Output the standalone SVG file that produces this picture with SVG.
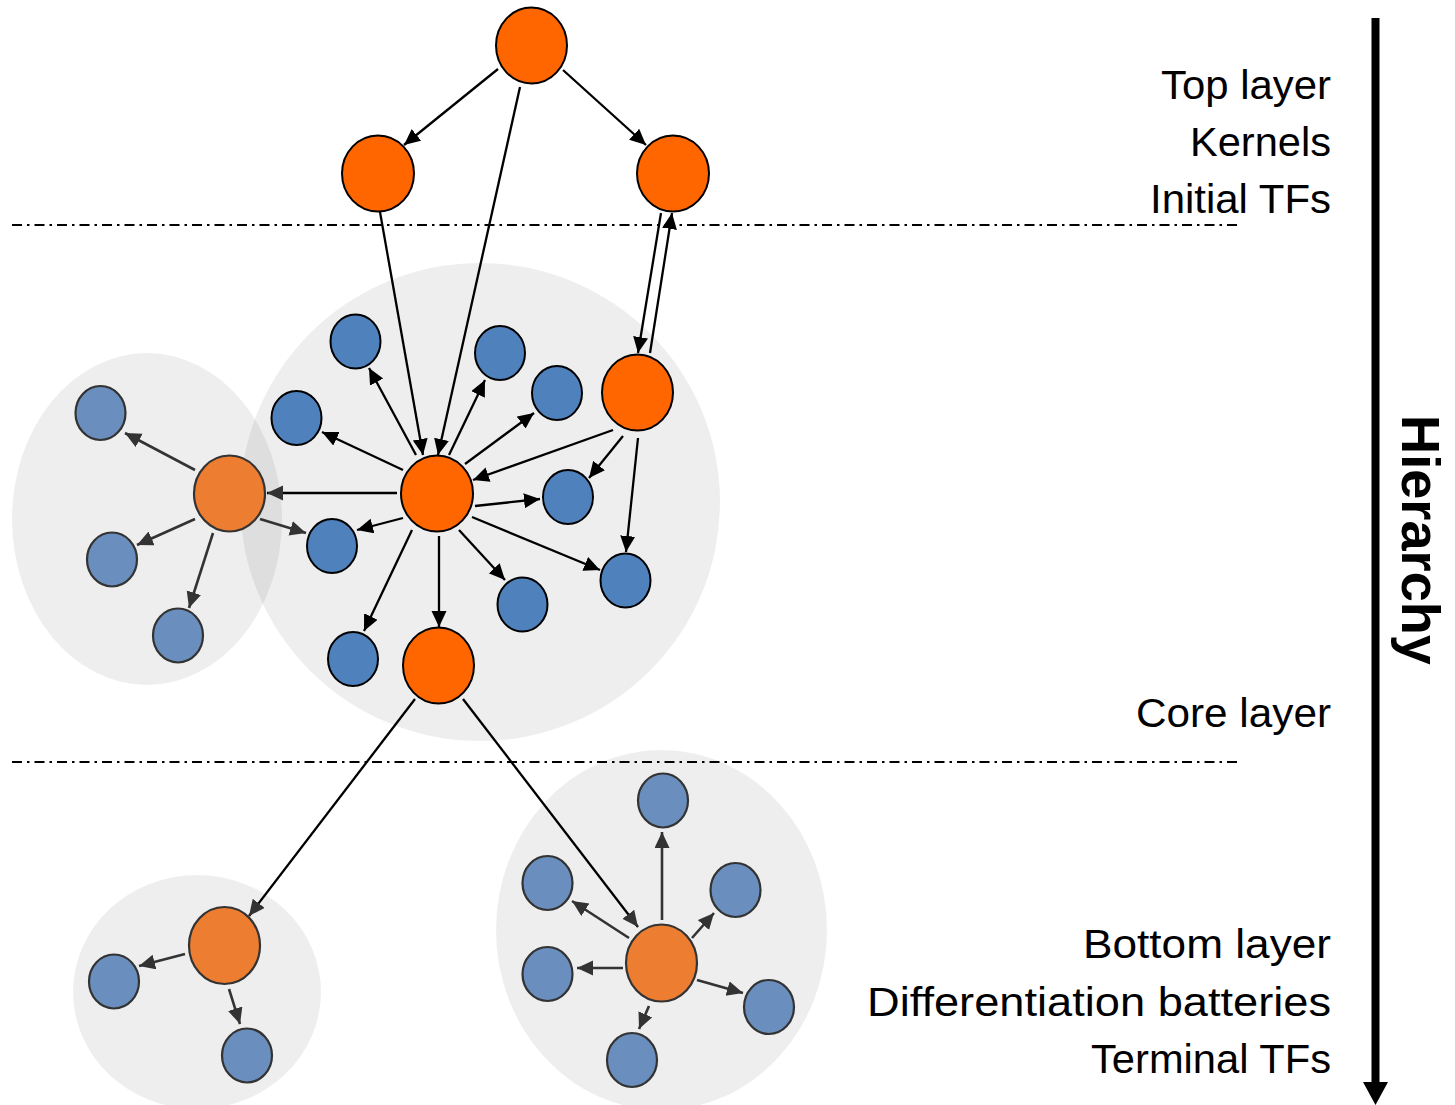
<svg xmlns="http://www.w3.org/2000/svg" width="1455" height="1105" viewBox="0 0 1455 1105">
<style>
.bg{fill:#000;fill-opacity:0.067;stroke:none}
.or{fill:#FF6600;stroke:#000;stroke-width:2}
.bl{fill:#4F81BD;stroke:#000;stroke-width:2}
.lor{fill:#ED7D31;stroke:#333;stroke-width:2.2}
.lbl{fill:#6A8FBF;stroke:#333;stroke-width:2.2}
.k{stroke:#000;stroke-width:2.3;fill:none;marker-end:url(#ak)}
.kg{stroke:#000;stroke-width:2.3;fill:none;marker-end:url(#ag)}
.g{stroke:#333;stroke-width:2.6;fill:none;marker-end:url(#ag)}
.sep{stroke:#000;stroke-width:2;stroke-dasharray:10 5 2.5 5;fill:none}
.lab{font-family:"Liberation Sans",Arial,sans-serif;font-size:40px;fill:#000;text-anchor:end}
</style>
<defs>
<marker id="ak" markerUnits="userSpaceOnUse" markerWidth="17" markerHeight="16" refX="16" refY="7.5" orient="auto" viewBox="0 0 17 16"><path d="M0,0 L16,7.5 L0,15 z" fill="#000"/></marker>
<marker id="ag" markerUnits="userSpaceOnUse" markerWidth="17" markerHeight="16" refX="16" refY="7.5" orient="auto" viewBox="0 0 17 16"><path d="M0,0 L16,7.5 L0,15 z" fill="#333"/></marker>
</defs>

<g id="backgrounds">
<ellipse class="bg" cx="480" cy="502" rx="240" ry="239"/>
<ellipse class="bg" cx="147" cy="519" rx="135" ry="166"/>
<ellipse class="bg" cx="197" cy="992" rx="124" ry="117"/>
<ellipse class="bg" cx="661.5" cy="930" rx="165.5" ry="180"/>
</g>

<g id="separators">
<line class="sep" x1="12" y1="225" x2="1238" y2="225"/>
<line class="sep" x1="12" y1="762" x2="1238" y2="762"/>
</g>

<g id="nodes">
<g id="top"><ellipse class="or" cx="531.5" cy="45.5" rx="35.5" ry="38"/></g>
<g id="kernel-left"><ellipse class="or" cx="378" cy="173.5" rx="36" ry="38"/></g>
<g id="kernel-right"><ellipse class="or" cx="673" cy="173.5" rx="36" ry="38"/></g>
<g id="core-hub"><ellipse class="or" cx="437" cy="493.5" rx="36" ry="38"/></g>
<g id="core-right"><ellipse class="or" cx="637.5" cy="392.5" rx="35.5" ry="38"/></g>
<g id="core-bottom"><ellipse class="or" cx="438.5" cy="665.5" rx="35.5" ry="38"/></g>
<g id="core-b1"><ellipse class="bl" cx="355.5" cy="341.5" rx="25" ry="27"/></g>
<g id="core-b2"><ellipse class="bl" cx="500" cy="353" rx="25" ry="27"/></g>
<g id="core-b3"><ellipse class="bl" cx="557" cy="393" rx="25" ry="27"/></g>
<g id="core-b4"><ellipse class="bl" cx="296.5" cy="418" rx="25" ry="27"/></g>
<g id="core-b5"><ellipse class="bl" cx="568" cy="497" rx="25" ry="27"/></g>
<g id="core-b6"><ellipse class="bl" cx="332" cy="546" rx="25" ry="27"/></g>
<g id="core-b7"><ellipse class="bl" cx="625.5" cy="580.5" rx="25" ry="27"/></g>
<g id="core-b8"><ellipse class="bl" cx="522.5" cy="604.5" rx="25" ry="27"/></g>
<g id="core-b9"><ellipse class="bl" cx="353" cy="659" rx="25" ry="27"/></g>

<g id="left-hub"><ellipse class="lor" cx="229.5" cy="493.5" rx="35.5" ry="38"/></g>
<g id="left-b1"><ellipse class="lbl" cx="100.5" cy="413" rx="25" ry="27"/></g>
<g id="left-b2"><ellipse class="lbl" cx="112" cy="559.5" rx="25" ry="27"/></g>
<g id="left-b3"><ellipse class="lbl" cx="178" cy="635.5" rx="25" ry="27"/></g>

<g id="bl-hub"><ellipse class="lor" cx="224.5" cy="945.5" rx="35.5" ry="38.5"/></g>
<g id="bl-b1"><ellipse class="lbl" cx="114" cy="981.5" rx="25" ry="27"/></g>
<g id="bl-b2"><ellipse class="lbl" cx="247" cy="1055.5" rx="25" ry="27"/></g>

<g id="br-hub"><ellipse class="lor" cx="661.5" cy="963" rx="35.5" ry="38.5"/></g>
<g id="br-b1"><ellipse class="lbl" cx="663" cy="800.5" rx="25" ry="27"/></g>
<g id="br-b2"><ellipse class="lbl" cx="547.5" cy="883" rx="25" ry="27"/></g>
<g id="br-b3"><ellipse class="lbl" cx="735.5" cy="890" rx="25" ry="27"/></g>
<g id="br-b4"><ellipse class="lbl" cx="547.5" cy="974" rx="25" ry="27"/></g>
<g id="br-b5"><ellipse class="lbl" cx="769" cy="1007" rx="25" ry="27"/></g>
<g id="br-b6"><ellipse class="lbl" cx="632" cy="1060" rx="25" ry="27"/></g>
</g>

<g id="connectors">
<line class="k" x1="498" y1="69" x2="404" y2="145"/>
<line class="k" x1="563" y1="70" x2="646" y2="145"/>
<line class="k" x1="520" y1="87" x2="438" y2="455"/>
<line class="k" x1="380" y1="212" x2="423" y2="455"/>
<line class="k" x1="661" y1="213" x2="638" y2="353"/>
<line class="k" x1="650" y1="353" x2="672" y2="213"/>
<line class="k" x1="416" y1="455" x2="369" y2="368"/>
<line class="k" x1="449" y1="455" x2="485" y2="380"/>
<line class="k" x1="465" y1="464" x2="534" y2="413"/>
<line class="k" x1="403" y1="470" x2="322" y2="432"/>
<line class="kg" x1="397" y1="493" x2="267" y2="493"/>
<line class="k" x1="475" y1="506" x2="540" y2="499"/>
<line class="k" x1="403" y1="518" x2="357" y2="530"/>
<line class="k" x1="472" y1="517" x2="600" y2="570"/>
<line class="k" x1="459" y1="530" x2="505" y2="580"/>
<line class="k" x1="412" y1="530" x2="364" y2="631"/>
<line class="k" x1="439" y1="536" x2="439" y2="627"/>
<line class="k" x1="613" y1="430" x2="473" y2="480"/>
<line class="k" x1="623" y1="436" x2="589" y2="478"/>
<line class="k" x1="638" y1="438" x2="626" y2="552"/>
<line class="kg" x1="415" y1="699" x2="249" y2="916"/>
<line class="kg" x1="463" y1="699" x2="638" y2="927"/>
<line class="g" x1="195" y1="470" x2="125" y2="433"/>
<line class="g" x1="195" y1="519" x2="137" y2="545"/>
<line class="g" x1="213" y1="533" x2="189" y2="608"/>
<line class="g" x1="260" y1="519" x2="306" y2="533"/>
<line class="g" x1="185" y1="954" x2="139" y2="966"/>
<line class="g" x1="229" y1="989" x2="240" y2="1024"/>
<line class="g" x1="662" y1="920" x2="662" y2="832"/>
<line class="g" x1="629" y1="938" x2="572" y2="901"/>
<line class="g" x1="692" y1="938" x2="714" y2="913"/>
<line class="g" x1="623" y1="968" x2="577" y2="968"/>
<line class="g" x1="697" y1="980" x2="743" y2="993"/>
<line class="g" x1="649" y1="1006" x2="639" y2="1029"/>
</g>

<g id="labels">
<text class="lab" x="1331" y="99" textLength="170" lengthAdjust="spacingAndGlyphs">Top layer</text>
<text class="lab" x="1331" y="156" textLength="141" lengthAdjust="spacingAndGlyphs">Kernels</text>
<text class="lab" x="1331" y="213" textLength="181" lengthAdjust="spacingAndGlyphs">Initial TFs</text>
<text class="lab" x="1331" y="727" textLength="195" lengthAdjust="spacingAndGlyphs">Core layer</text>
<text class="lab" x="1331" y="958" textLength="248" lengthAdjust="spacingAndGlyphs">Bottom layer</text>
<text class="lab" x="1331" y="1016" textLength="464" lengthAdjust="spacingAndGlyphs">Differentiation batteries</text>
<text class="lab" x="1331" y="1073" textLength="240" lengthAdjust="spacingAndGlyphs">Terminal TFs</text>
</g>

<g id="hierarchy">
<line x1="1375.5" y1="18" x2="1375.5" y2="1084" stroke="#000" stroke-width="8"/>
<polygon points="1363,1082 1388,1082 1375.5,1105" fill="#000"/>
<text transform="translate(1402,540) rotate(90)" font-family="'Liberation Sans',Arial,sans-serif" font-weight="bold" font-size="54" text-anchor="middle" textLength="250" lengthAdjust="spacingAndGlyphs">Hierarchy</text>
</g>
</svg>
